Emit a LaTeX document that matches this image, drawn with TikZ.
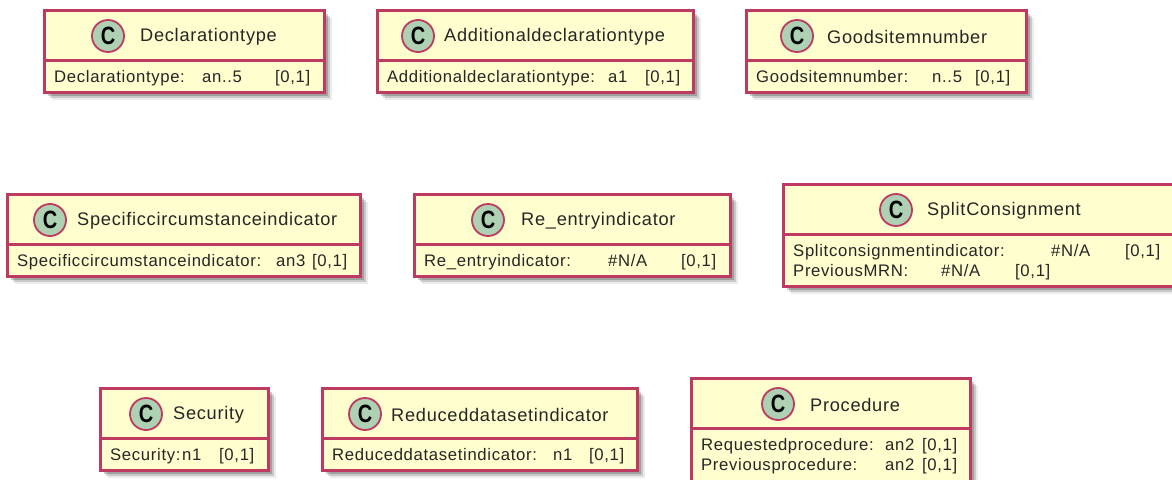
\documentclass[tikz,border=0pt]{standalone}
\usepackage{fontspec}
\setmainfont{Liberation Sans}[LetterSpace=4]
\newfontfamily\spotfont{Liberation Sans}[FakeStretch=0.8]
\usetikzlibrary{shadows}
\definecolor{classline}{HTML}{BE3A60}
\definecolor{classfill}{HTML}{FEFECE}
\definecolor{spotfill}{HTML}{ADD1B2}
\newcommand{\attr}[2]{\makebox[#1pt][l]{#2}}
\tikzset{
    softshadow/.style={
        drop shadow={shadow xshift=2pt,shadow yshift=-2pt,fill=black,opacity=0.2},
        drop shadow={shadow xshift=4pt,shadow yshift=-4pt,fill=black,opacity=0.2},
        drop shadow={shadow xshift=6pt,shadow yshift=-6pt,fill=black,opacity=0.15},
        drop shadow={shadow xshift=8pt,shadow yshift=-8pt,fill=black,opacity=0.08}},
    classbox/.style={draw=classline,fill=classfill,line width=2.6pt,rectangle,anchor=north west,inner sep=0pt,softshadow},
    classhead/.style={draw=classline,fill=classfill,line width=2.6pt,rectangle,anchor=north west,inner sep=0pt},
    classbody/.style={anchor=north west,inner sep=0pt,align=left,text=black!85,font=\fontsize{16.7}{20}\selectfont},
    classspot/.style={draw=classline,fill=spotfill,circle,line width=1.8pt,minimum size=32pt,inner sep=0pt,font=\fontsize{25}{25}\spotfont\bfseries},
    classname/.style={anchor=west,inner sep=0pt,text=black!85,font=\fontsize{18.2}{20}\selectfont}
}
\begin{document}
\begin{tikzpicture}[x=1pt,y=-1pt]
        \useasboundingbox (0,0) rectangle (1172,479);

        % first row
        \node[classbox,minimum width=280pt,minimum height=82pt] (dtypebox) at (43,9){};
        \node[classhead,minimum width=280pt,minimum height=50pt] (dtypehead) at (dtypebox.north west){};
        \node[classspot] (dtypespot) at (108,36){C};
        \node[classname] (dtypename) at (140,37){Declarationtype};
        \node[classbody] (dtypeattr) at (54,70){\attr{148}{Declarationtype:}\attr{73}{an..5}[0,1]};

        \node[classbox,minimum width=316pt,minimum height=82pt] (adtypebox) at (376,9){};
        \node[classhead,minimum width=316pt,minimum height=50pt] (adtypehead) at (adtypebox.north west){};
        \node[classspot] (adtypespot) at (418,36){C};
        \node[classname] (adtypename) at (444,37){Additionaldeclarationtype};
        \node[classbody] (adtypeattr) at (387,70){\attr{221}{Additionaldeclarationtype:}\attr{37}{a1}[0,1]};

        \node[classbox,minimum width=280pt,minimum height=82pt] (goodsbox) at (745,9){};
        \node[classhead,minimum width=280pt,minimum height=50pt] (goodshead) at (goodsbox.north west){};
        \node[classspot] (goodsspot) at (797,36){C};
        \node[classname] (goodsname) at (827,37){Goodsitemnumber};
        \node[classbody] (goodsattr) at (756,70){\attr{176}{Goodsitemnumber:}\attr{43}{n..5}[0,1]};

        % second row
        \node[classbox,minimum width=353pt,minimum height=82pt] (specificbox) at (6,193){};
        \node[classhead,minimum width=353pt,minimum height=50pt] (specifichead) at (specificbox.north west){};
        \node[classspot] (specificspot) at (50,220){C};
        \node[classname] (specificname) at (77,221){Specificcircumstanceindicator};
        \node[classbody] (specificattr) at (17,254){\attr{259}{Specificcircumstanceindicator:}\attr{36}{an3}[0,1]};

        \node[classbox,minimum width=316pt,minimum height=82pt] (reentrybox) at (413,193){};
        \node[classhead,minimum width=316pt,minimum height=50pt] (reentryhead) at (reentrybox.north west){};
        \node[classspot] (reentryspot) at (488,220){C};
        \node[classname] (reentryname) at (521,221){Re\_entryindicator};
        \node[classbody] (reentryattr) at (424,254){\attr{184}{Re\_entryindicator:}\attr{73}{\#N/A}[0,1]};

        \node[classbox,minimum width=392pt,minimum height=102pt] (splitbox) at (782,183){};
        \node[classhead,minimum width=392pt,minimum height=50pt] (splithead) at (splitbox.north west){};
        \node[classspot] (splitspot) at (896,210){C};
        \node[classname] (splitname) at (927,211){SplitConsignment};
        \node[classbody] (splitattr) at (793,244){\attr{258}{Splitconsignmentindicator:}\attr{74}{\#N/A}[0,1]\\\attr{148}{PreviousMRN:}\attr{74}{\#N/A}[0,1]};

        % third row
        \node[classbox,minimum width=168pt,minimum height=82pt] (securitybox) at (99,387){};
        \node[classhead,minimum width=168pt,minimum height=50pt] (securityhead) at (securitybox.north west){};
        \node[classspot] (securityspot) at (146,414){C};
        \node[classname] (securityname) at (173,415){Security};
        \node[classbody] (securityattr) at (110,448){\attr{72}{Security:}\attr{37}{n1}[0,1]};

        \node[classbox,minimum width=315pt,minimum height=82pt] (reducedbox) at (321,387){};
        \node[classhead,minimum width=315pt,minimum height=50pt] (reducedhead) at (reducedbox.north west){};
        \node[classspot] (reducedspot) at (365,414){C};
        \node[classname] (reducedname) at (391,415){Reduceddatasetindicator};
        \node[classbody] (reducedattr) at (332,448){\attr{221}{Reduceddatasetindicator:}\attr{36}{n1}[0,1]};

        \node[classbox,minimum width=279pt,minimum height=108pt] (procedurebox) at (690,377){};
        \node[classhead,minimum width=279pt,minimum height=50pt] (procedurehead) at (procedurebox.north west){};
        \node[classspot] (procedurespot) at (778,404){C};
        \node[classname] (procedurename) at (810,405){Procedure};
        \node[classbody] (procedureattr) at (701,438){\attr{184}{Requestedprocedure:}\attr{37}{an2}[0,1]\\\attr{184}{Previousprocedure:}\attr{37}{an2}[0,1]};
\end{tikzpicture}
\end{document}
